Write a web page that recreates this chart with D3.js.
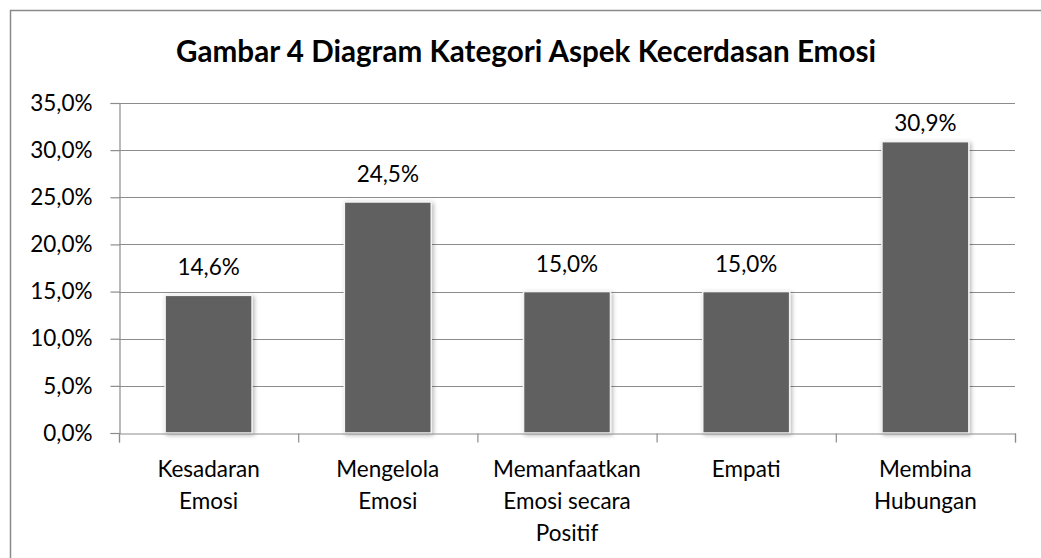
<!DOCTYPE html>
<html><head><meta charset="utf-8">
<script src="https://cdn.jsdelivr.net/npm/d3@7"></script>
<style>body{margin:0;background:#fff}svg{display:block}text{font-family:Lato,"Open Sans",sans-serif;fill:#000}</style>
</head><body><svg id="c" width="1041" height="558"></svg>
<script>
const title = "Gambar 4 Diagram Kategori Aspek Kecerdasan Emosi";
const categories = [["Kesadaran","Emosi"],["Mengelola","Emosi"],["Memanfaatkan","Emosi secara","Positif"],["Empati"],["Membina","Hubungan"]];
const values = [14.6, 24.5, 15.0, 15.0, 30.9];
const yTicks = [0,5,10,15,20,25,30,35];
const fmt = v => v.toFixed(1).replace(".", ",") + "%";
const FS = 22.5;

const svg = d3.select("#c");
const defs = svg.append("defs");
const f = defs.append("filter").attr("id","sh").attr("x","-20%").attr("y","-20%").attr("width","140%").attr("height","140%");
f.append("feDropShadow").attr("dx",1.5).attr("dy",1.5).attr("stdDeviation",2).attr("flood-color","#000").attr("flood-opacity",0.3);

svg.append("rect").attr("x",10.5).attr("y",10.5).attr("width",1100).attr("height",600).attr("fill","none").attr("stroke","#8a8a8a").attr("stroke-width",1.5);

const m = {l:119, r:1015, t:103, b:433};
const x = d3.scaleBand().domain(d3.range(categories.length)).range([m.l, m.r]).paddingInner(0.515).paddingOuter(0.2575);
const y = d3.scaleLinear().domain([0,35]).range([m.b, m.t]);

// gridlines
svg.append("g").selectAll("line").data(yTicks.filter(d=>d>0)).join("line")
  .attr("x1",m.l).attr("x2",m.r).attr("y1",d=>Math.round(y(d))+0.5).attr("y2",d=>Math.round(y(d))+0.5)
  .attr("stroke","#8c8c8c").attr("stroke-width",1.2);

// y axis
const ya = svg.append("g").attr("transform",`translate(${m.l+0.5},0)`)
  .call(d3.axisLeft(y).tickValues(yTicks).tickFormat(fmt).tickSize(9).tickPadding(18));
ya.select(".domain").attr("stroke","#8c8c8c").attr("stroke-width",1.2);
ya.selectAll(".tick line").attr("stroke","#8c8c8c").attr("stroke-width",1.2);
ya.selectAll(".tick text").attr("font-size",FS).attr("font-family","Lato").attr("fill","#000");

// bars
svg.append("g").selectAll("rect").data(values).join("rect")
  .attr("x",(d,i)=>x(i)).attr("width",x.bandwidth())
  .attr("y",d=>y(d)).attr("height",d=>y(0)-y(d))
  .attr("fill","#606060").attr("stroke","#f2f2f2").attr("stroke-width",1.5).attr("filter","url(#sh)");

// x axis
const xb = d3.scaleLinear().domain([0,categories.length]).range([m.l,m.r]);
const xa = svg.append("g").attr("transform",`translate(0,${m.b+0.5})`)
  .call(d3.axisBottom(xb).tickValues(d3.range(categories.length+1)).tickFormat("").tickSize(9));
xa.select(".domain").attr("stroke","#8c8c8c").attr("stroke-width",1.2);
xa.selectAll(".tick line").attr("stroke","#8c8c8c").attr("stroke-width",1.2);

// category labels
const cl = svg.append("g").selectAll("text").data(categories).join("text")
  .attr("x",(d,i)=>x(i)+x.bandwidth()/2).attr("y",477).attr("text-anchor","middle").attr("font-size",FS);
cl.selectAll("tspan").data(d=>d).join("tspan").attr("x",function(){return this.parentNode.getAttribute("x");})
  .attr("dy",(d,i)=>i?32:0).text(d=>d);

// value labels (kept inside plot area like Excel)
svg.append("g").selectAll("text").data(values).join("text")
  .attr("x",(d,i)=>x(i)+x.bandwidth()/2).attr("y",d=>Math.max(y(d)-20, m.t+28))
  .attr("text-anchor","middle").attr("font-size",FS).text(fmt);

// title
const t = svg.append("text").attr("x",526).attr("y",62).attr("text-anchor","middle").attr("font-weight","bold").attr("font-size",26).text(title);
const w = t.node().getComputedTextLength();
t.attr("font-size", 26*700/w);
</script></body></html>
